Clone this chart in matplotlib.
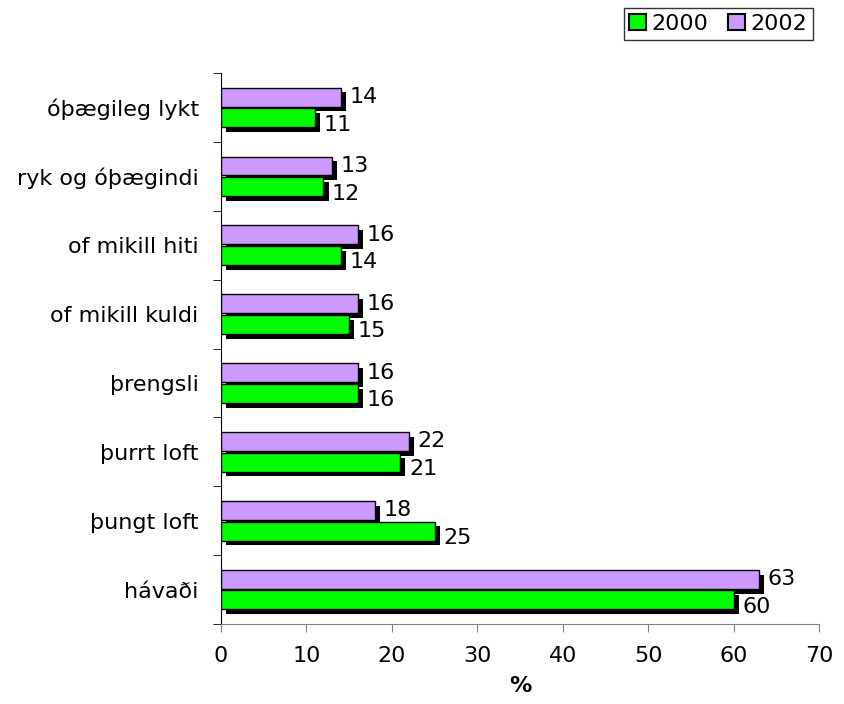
import numpy as np
import matplotlib.pyplot as plt
from matplotlib.patches import Patch

plt.rcParams['font.family'] = ['DejaVu Sans']

# Data (bottom to top)
categories = ['hávaði', 'þungt loft', 'þurrt loft', 'þrengsli',
              'of mikill kuldi', 'of mikill hiti', 'ryk og óþægindi', 'óþægileg lykt']
vals_2000 = [60, 25, 21, 16, 15, 14, 12, 11]
vals_2002 = [63, 18, 22, 16, 16, 16, 13, 14]
x_ticks = [0, 10, 20, 30, 40, 50, 60, 70]

green = '#00FF00'
purple = '#CC99FF'

fig = plt.figure(figsize=(8.45, 7.04), dpi=100)
ax = fig.add_axes([0.2615, 0.1136, 0.7077, 0.7827])

y = np.arange(len(categories))
h = 0.275
y_p = y + 0.15
y_g = y - 0.15
sx, sy = 0.6, 0.07  # shadow offset

# shadows
ax.barh(y_p - sy, vals_2002, height=h, left=sx, color='black', zorder=1)
ax.barh(y_g - sy, vals_2000, height=h, left=sx, color='black', zorder=1)
# bars
ax.barh(y_p, vals_2002, height=h, color=purple, edgecolor='black', linewidth=1, zorder=2)
ax.barh(y_g, vals_2000, height=h, color=green, edgecolor='black', linewidth=1, zorder=2)

fs = 16
for yi, v in zip(y_p, vals_2002):
    ax.text(v + 1.0, yi, str(v), va='center', ha='left', fontsize=fs)
for yi, v in zip(y_g, vals_2000):
    ax.text(v + 1.0, yi - 0.1, str(v), va='center', ha='left', fontsize=fs)

ax.set_xlim(0, 70)
ax.set_ylim(-0.5, len(categories) - 0.5)
ax.set_xticks(x_ticks)
ax.set_xticklabels([str(t) for t in x_ticks], fontsize=fs)
ax.set_yticks(y)
ax.set_yticklabels(categories, fontsize=fs)
ax.set_yticks(np.arange(len(categories) + 1) - 0.5, minor=True)
ax.tick_params(axis='y', which='major', length=0, pad=16)
ax.tick_params(axis='y', which='minor', length=6, direction='out', color='black')
ax.tick_params(axis='x', length=6, direction='out', color='#808080', pad=10)

for s in ['top', 'right']:
    ax.spines[s].set_visible(False)
ax.spines['left'].set_color('black')
ax.spines['bottom'].set_color('#808080')

ax.set_xlabel('%', fontsize=fs, fontweight='bold', labelpad=7)

handles = [Patch(facecolor=green, edgecolor='black', linewidth=1.5, label='2000'),
           Patch(facecolor=purple, edgecolor='black', linewidth=1.5, label='2002')]
fig.legend(handles=handles, loc='upper right', bbox_to_anchor=(0.962, 0.988),
           ncol=2, fontsize=fs, frameon=True, fancybox=False, edgecolor='black',
           handlelength=0.75, handleheight=0.75, handletextpad=0.25, columnspacing=0.9,
           borderpad=0.25, borderaxespad=0)

fig.savefig('out.png', dpi=100)
